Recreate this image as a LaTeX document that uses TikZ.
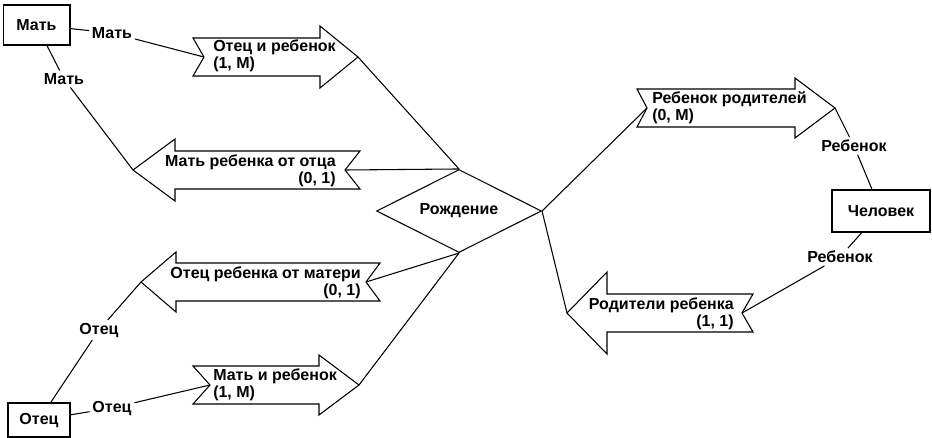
\documentclass[tikz,border=0pt]{standalone}
\usepackage{fontspec}
\setmainfont{Liberation Sans}
\usetikzlibrary{shapes.geometric}

% relationship arrow: name, tail, notch, head base, tip, y, head half-height
\newcommand{\relarrow}[7]{%
  \draw[relshape] (#2,#6-19) -- (#4,#6-19) -- (#4,#6-#7) -- (#5,#6)
    -- (#4,#6+#7) -- (#4,#6+19) -- (#2,#6+19) -- (#3,#6) -- cycle;
  \coordinate (#1-tip) at (#5,#6);
  \coordinate (#1-tail) at (#3,#6);
}

\begin{document}
\begin{tikzpicture}[
    x=0.75pt, y=-0.75pt,
    every node/.style={font=\bfseries\fontsize{12}{12.5}\selectfont},
    entity/.style={draw, line width=1pt, inner sep=2pt},
    role/.style={inner sep=2pt},
    reltext/.style={inner sep=0pt},
    relshape/.style={draw, fill=white, line width=0.8pt},
    link/.style={line width=0.8pt}
]
\useasboundingbox (0,0) rectangle (932,437);

% Entities
\node[entity, minimum width=50pt, minimum height=30pt] (mother) at (36.5,25) {Мать};
\node[entity, minimum width=46.5pt, minimum height=25.5pt] (father) at (39,420) {Отец};
\node[entity, minimum width=73.5pt, minimum height=31.5pt] (person) at (881,211) {Человек};
\node[draw, diamond, aspect=2, inner sep=0pt, line width=0.8pt,
      minimum width=123.75pt, minimum height=62.25pt] (birth) at (459,211) {Рождение};

% Relationship arrows
\relarrow{motherchild}{193}{204}{320}{358}{57}{31}
\relarrow{motherof}{360}{345}{175}{133}{170}{31}
\relarrow{fatherof}{380}{366}{176}{141}{282}{30}
\relarrow{fatherchild}{193}{210}{319}{359}{385}{30}
\relarrow{childof}{637}{647}{795}{835}{108}{30}
\relarrow{parentsof}{753}{742}{607}{567}{313}{41}

\node[reltext, anchor=west, align=left] (t1) at (213,56) {Отец и ребенок\\(1, M)};
\node[reltext, anchor=east, align=right] (t2) at (336,171) {Мать ребенка от отца\\(0, 1)};
\node[reltext, anchor=east, align=right] (t3) at (361,283) {Отец ребенка от матери\\(0, 1)};
\node[reltext, anchor=west, align=left] (t4) at (213,385) {Мать и ребенок\\(1, M)};
\node[reltext, anchor=west, align=left] (t5) at (652,108) {Ребенок родителей\\(0, M)};
\node[reltext, anchor=east, align=right] (t6) at (734,314) {Родители ребенка\\(1, 1)};

% Role names
\node[role] (rmA) at (112,33) {Мать};
\node[role] (rmB) at (64,79) {Мать};
\node[role] (rfA) at (112,408) {Отец};
\node[role] (rfB) at (99,330) {Отец};
\node[role] (rcA) at (854,146) {Ребенок};
\node[role] (rcB) at (840,257) {Ребенок};

% Links
\draw[link] (mother) -- (rmA) -- (motherchild-tail);
\draw[link] (mother) -- (rmB) -- (motherof-tip);
\draw[link] (father) -- (rfA) -- (fatherchild-tail);
\draw[link] (father) -- (rfB) -- (fatherof-tip);
\draw[link] (motherchild-tip) -- (birth.north);
\draw[link] (motherof-tail) -- (birth.north);
\draw[link] (fatherof-tail) -- (birth.south);
\draw[link] (fatherchild-tip) -- (birth.south);
\draw[link] (birth.east) -- (childof-tail);
\draw[link] (birth.east) -- (parentsof-tip);
\draw[link] (childof-tip) -- (rcA) -- (person);
\draw[link] (person) -- (rcB) -- (parentsof-tail);

\end{tikzpicture}
\end{document}
